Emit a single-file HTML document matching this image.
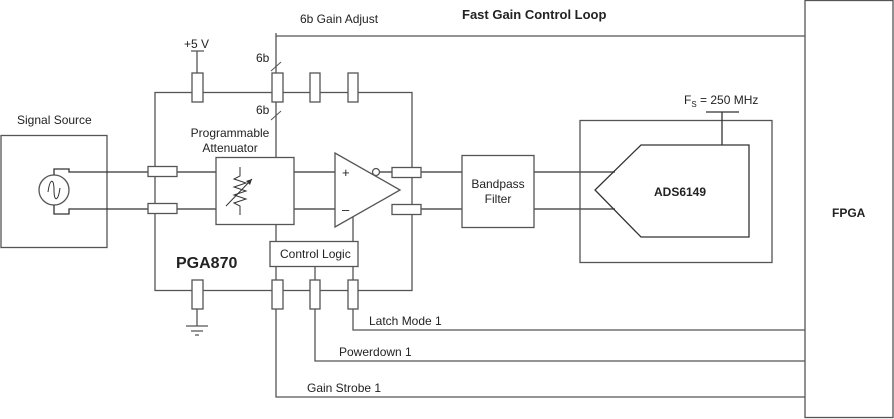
<!DOCTYPE html>
<html><head><style>body{margin:0;background:#fff}svg{display:block}text{font-family:"Liberation Sans",sans-serif;fill:#222}</style></head>
<body>
<svg width="894" height="419" viewBox="0 0 894 419" xmlns="http://www.w3.org/2000/svg">
<g fill="none" stroke="#555" stroke-width="1.3">
<rect x="805" y="0.5" width="88" height="417"/>
<rect x="1" y="135.5" width="106" height="112"/>
<circle cx="54" cy="190" r="15"/>
<path d="M54 175V169H69V172H148M54 205V214H69V209H148" stroke="#333"/>
<path d="M48 192C50 178 54 178 54 190C54 202 58 202 60 188" stroke="#333" stroke-width="1"/>
<rect x="155" y="92.5" width="257" height="198"/>
<path d="M197 73V51M191 51H204"/>
<path d="M197 309V326M186 326H208M191 331H203M195 335H199"/>
<path d="M276 33V157M276 36H805M276 224V241M276 266V397H805M315 266V361H805M353 215V241M353 266V330H805"/>
<path d="M271 71L281 62M271 120L281 111" stroke-width="1"/>
<path d="M177 172H216M177 209H216M294 172H335M294 209H335M379 172H392M421 172H462M421 209H462M534 172H615M534 209H615" stroke="#333"/>
<rect x="216" y="157.5" width="78" height="67" fill="#fff"/>
<path d="M240 167V176L234 179L246 183L234 187L246 191L234 195L246 199L234 203L240 206V215" stroke="#333" stroke-width="1"/>
<path d="M226 206L252 179" stroke="#333" stroke-width="1"/>
<path d="M252 179L246 181L250 185Z" fill="#333" stroke="none"/>
<path d="M335 153V227L400 190Z" fill="#fff"/>
<circle cx="376" cy="172" r="3.5" fill="#fff"/>
<rect x="270" y="241.5" width="88" height="25" fill="#fff"/>
<rect x="462" y="155.5" width="72" height="72"/>
<rect x="580" y="120.5" width="192" height="142"/>
<path d="M641 145H749V237H641L595 190Z" stroke="#333"/>
<path d="M722 145V112M706 112H739" stroke="#333"/>
<g fill="#fff">
<rect x="192" y="73" width="11" height="29"/>
<rect x="272" y="73" width="11" height="29"/>
<rect x="310" y="73" width="10" height="29"/>
<rect x="348" y="73" width="10" height="29"/>
<rect x="192" y="280" width="11" height="29"/>
<rect x="272" y="280" width="11" height="29"/>
<rect x="310" y="280" width="10" height="29"/>
<rect x="348" y="280" width="10" height="29"/>
<rect x="148" y="166.5" width="29" height="10"/>
<rect x="148" y="203.5" width="29" height="10"/>
<rect x="392" y="167.5" width="29" height="10"/>
<rect x="392" y="204.5" width="29" height="10"/>
</g>
</g>
<g font-size="12">
<text x="300" y="23">6b Gain Adjust</text>
<text x="462" y="19" font-weight="bold" font-size="13">Fast Gain Control Loop</text>
<text x="184" y="48">+5 V</text>
<text x="256" y="62">6b</text>
<text x="256" y="114">6b</text>
<text x="17" y="124">Signal Source</text>
<text x="230" y="137" text-anchor="middle">Programmable</text>
<text x="230" y="152" text-anchor="middle">Attenuator</text>
<text x="342" y="177" font-size="13">+</text>
<text x="342" y="214" font-size="13">–</text>
<text x="280" y="258">Control Logic</text>
<text x="176" y="268" font-weight="bold" font-size="16">PGA870</text>
<text x="498" y="188" text-anchor="middle">Bandpass</text>
<text x="498" y="203" text-anchor="middle">Filter</text>
<text x="684" y="104">F<tspan font-size="8" dy="3">S</tspan><tspan dy="-3"> = 250 MHz</tspan></text>
<text x="832" y="217" font-weight="bold">FPGA</text>
<text x="369" y="325">Latch Mode 1</text>
<text x="339" y="356">Powerdown 1</text>
<text x="307" y="392">Gain Strobe 1</text>
<text x="654" y="196" font-weight="bold">ADS6149</text>
</g>
</svg>
</body></html>
